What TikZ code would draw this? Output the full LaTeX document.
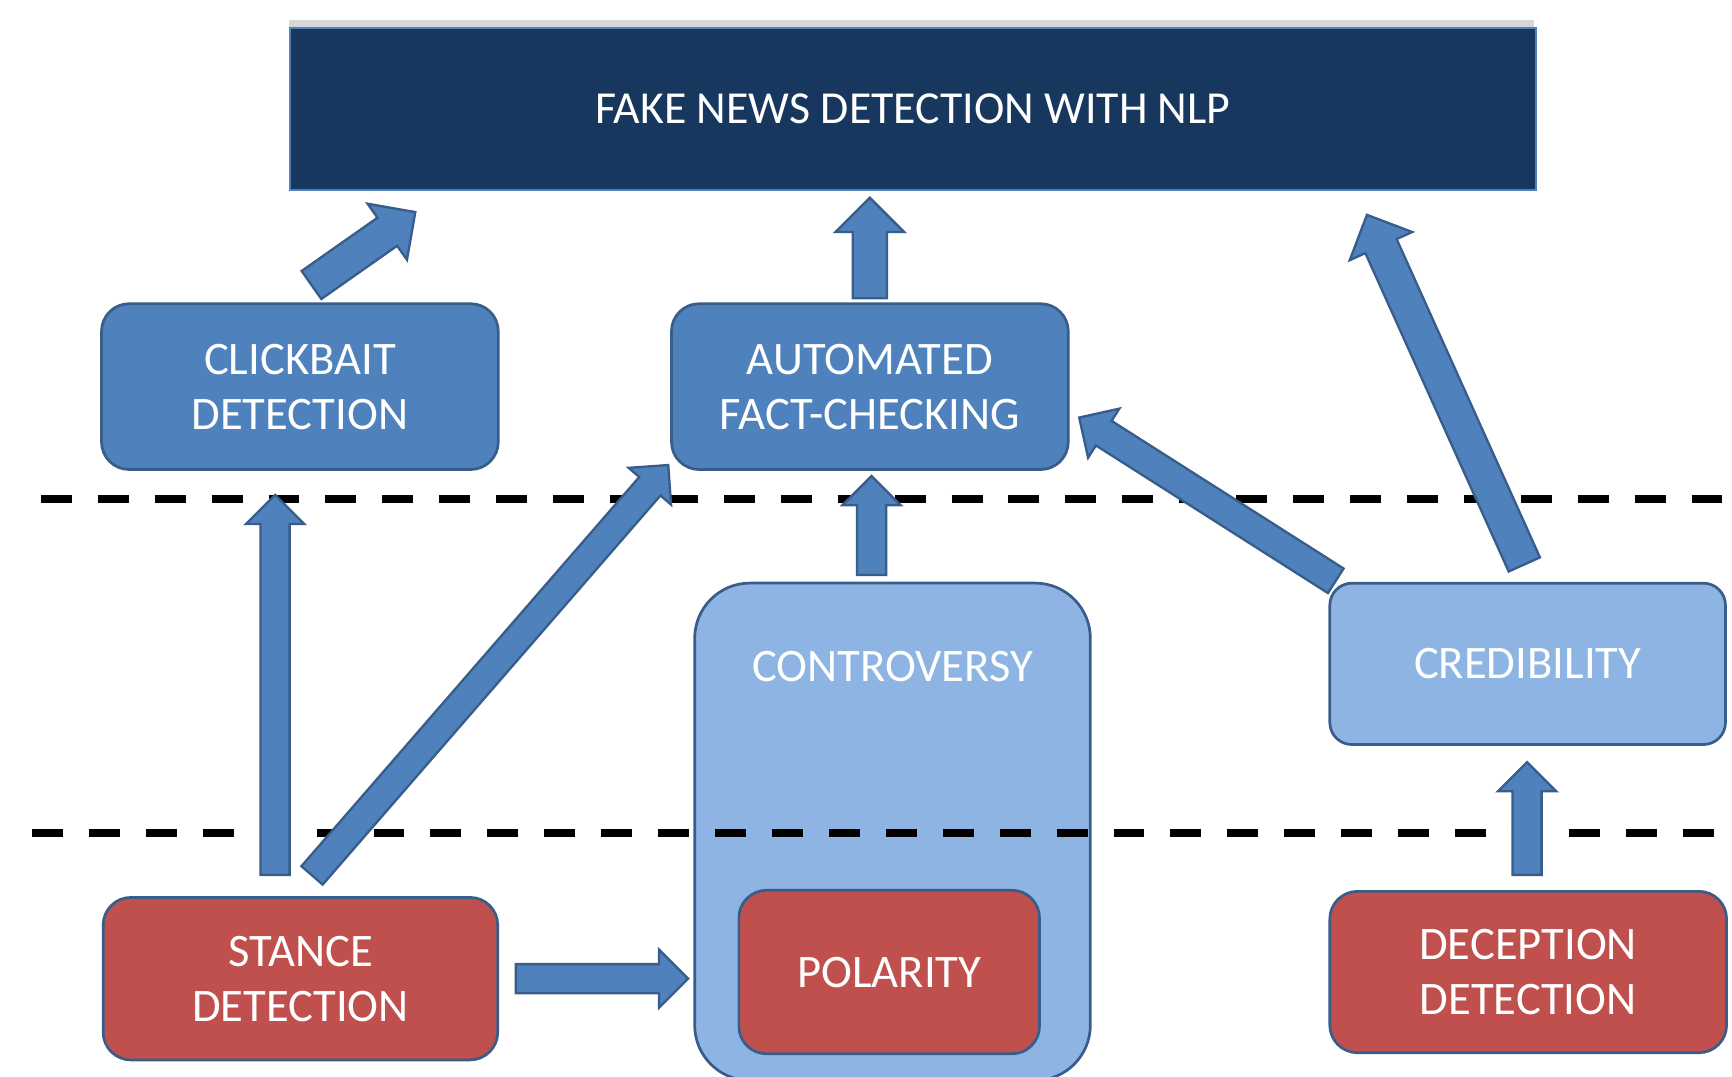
\documentclass[tikz,border=0pt]{standalone}
\usepackage{fontspec}
\setmainfont{Carlito}
\usetikzlibrary{calc,shadows}

\definecolor{navy}{HTML}{17375E}
\definecolor{midblue}{HTML}{4F81BD}
\definecolor{lightblue}{HTML}{8DB4E2}
\definecolor{boxred}{HTML}{C0504D}
\definecolor{edgeblue}{HTML}{385D8A}

% fat arrow from #2 to #3, #1 scales its widths
\newcommand{\blockarrow}[3][1]{%
    \pgfmathsetlengthmacro{\bsw}{#1*0.155cm}%
    \pgfmathsetlengthmacro{\bhw}{#1*0.31cm}%
    \pgfmathsetlengthmacro{\bhl}{#1*0.31cm}%
    \coordinate (hb) at ($(#3)!\bhl!(#2)$);
    \draw[barrow] ($(#2)!\bsw!90:(#3)$) -- ($(hb)!\bsw!90:(#3)$) -- ($(hb)!\bhw!90:(#3)$) -- (#3)
        -- ($(hb)!\bhw!-90:(#3)$) -- ($(hb)!\bsw!-90:(#3)$) -- ($(#2)!\bsw!-90:(#3)$) -- cycle;
}

\begin{document}
\begin{tikzpicture}[x=0.01cm, y=-0.01cm,
        box/.style={draw=edgeblue, line width=0.7pt, rounded corners=0.25cm, text=white, align=center,
            font=\fontsize{12}{14.2}\selectfont},
        barrow/.style={fill=midblue, draw=edgeblue, line width=0.6pt, line join=miter},
        dashline/.style={line width=2pt, dash pattern=on 0.28cm off 0.235cm}]
    \useasboundingbox (0,0) rectangle (1568,975);

    \node(fnd) at (826.5,98.5) [fill=navy, draw=midblue, line width=0.5pt, text=white,
        minimum width=11.27cm, minimum height=1.47cm, font=\fontsize{11.8}{14}\selectfont,
        drop shadow={shadow xshift=-0.4pt, shadow yshift=2pt, fill=black!45, opacity=0.35}] {FAKE NEWS DETECTION WITH NLP};

    \node(clickbait) at (271.5,350) [box, fill=midblue, minimum width=3.59cm, minimum height=1.5cm] {CLICKBAIT\\DETECTION};
    \node(fact_check) at (787.5,350) [box, fill=midblue, minimum width=3.59cm, minimum height=1.5cm] {AUTOMATED\\FACT-CHECKING};

    \node(controversy) at (808,753) [box, fill=lightblue, rounded corners=0.5cm, minimum width=3.58cm, minimum height=4.5cm] {};
    \node(controversy_lbl) at (808,603) [text=white, font=\fontsize{12}{14.2}\selectfont] {CONTROVERSY};
    \node(polarity) at (805,880) [box, fill=boxred, minimum width=2.72cm, minimum height=1.48cm] {POLARITY};

    \node(credibility) at (1383,601) [box, fill=lightblue, rounded corners=0.2cm, minimum width=3.58cm, minimum height=1.46cm] {CREDIBILITY};
    \node(stance) at (272,886) [box, fill=boxred, minimum width=3.57cm, minimum height=1.47cm] {STANCE\\DETECTION};
    \node(deception) at (1383.5,880) [box, fill=boxred, minimum width=3.59cm, minimum height=1.46cm] {DECEPTION\\DETECTION};

    \draw[dashline] (37,452) -- (1568,452);
    \draw[dashline] (29,754) -- (1568,754);

    \coordinate (cb_tail) at (282,258);
    \coordinate (fnd_in1) at (376,192);
    \coordinate (fc_tail) at (787.5,270);
    \coordinate (fnd_in2) at (787.5,179);
    \coordinate (cr_tail2) at (1380,511);
    \coordinate (fnd_in3) at (1237.5,194.5);
    \coordinate (co_tail) at (789,520.5);
    \coordinate (fc_in1) at (789,431);
    \coordinate (st_tail2) at (282.5,792.5);
    \coordinate (fc_in2) at (605,421);
    \coordinate (cr_tail1) at (1209.3,525.8);
    \coordinate (fc_in3) at (977,378);
    \coordinate (st_tail1) at (249,792);
    \coordinate (cb_in) at (249,448);
    \coordinate (st_tail3) at (467,886);
    \coordinate (po_in) at (623,886);
    \coordinate (de_tail) at (1382.5,792);
    \coordinate (cr_in) at (1382.5,690);

    \blockarrow{cb_tail}{fnd_in1}
    \blockarrow{fc_tail}{fnd_in2}
    \blockarrow{cr_tail2}{fnd_in3}
    \blockarrow[0.85]{co_tail}{fc_in1}
    \blockarrow[0.82]{st_tail2}{fc_in2}
    \blockarrow[0.85]{cr_tail1}{fc_in3}
    \blockarrow[0.85]{st_tail1}{cb_in}
    \blockarrow[0.85]{st_tail3}{po_in}
    \blockarrow[0.85]{de_tail}{cr_in}
\end{tikzpicture}
\end{document}
